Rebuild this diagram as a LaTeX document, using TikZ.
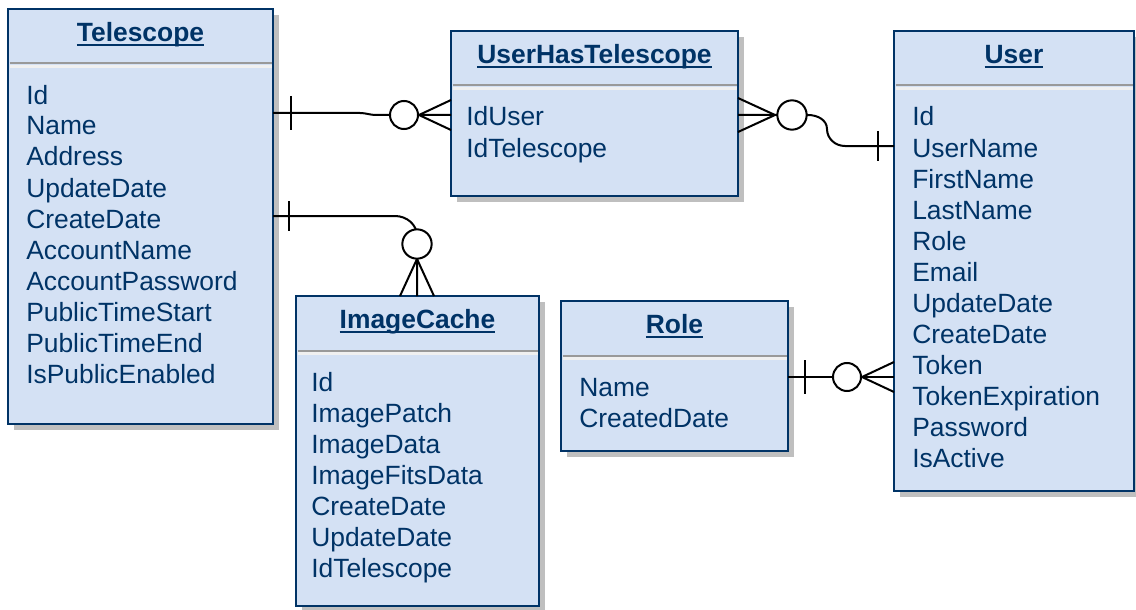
\documentclass[tikz,border=0pt]{standalone}
\usepackage{fontspec}
\setmainfont{Liberation Sans}
\usetikzlibrary{calc,fit,shadows}
\definecolor{entity fill}{RGB}{212,225,244}
\definecolor{entity navy}{RGB}{0,51,102}
\newcommand{\ultitle}[1]{\setbox0=\hbox{#1}\rlap{\vrule width\wd0 height -2pt depth 3.6pt}\box0}
\tikzset{entity box/.style={
    draw=entity navy, line width=1.7pt, fill=entity fill,
    inner sep=0pt, outer sep=0pt,
    drop shadow={shadow xshift=4.5pt, shadow yshift=-4.5pt, fill=black!25, opacity=1}
  },
  entity title/.style={
    anchor=base, inner sep=0pt, text=entity navy,
    font=\fontsize{19.8}{23}\selectfont\bfseries
  },
  field/.style={
    anchor=base west, inner sep=0pt, text=entity navy,
    font=\fontsize{19.8}{23}\selectfont
  },
  sep gray/.style={draw=black!40, line width=1.5pt},
  sep white/.style={draw=black!6, line width=2.4pt},
  rel/.style={draw=black, line width=1.5pt},
  zero/.style={rel, fill=white}
}

\begin{document}
\begin{tikzpicture}[x=0.75pt,y=-0.75pt]
  \useasboundingbox (0,0) rectangle (1136,610);

  % -- The entity boxes.
  \node[entity box, fit={(8,9) (273,424)}] (telescope) {};
  \node[entity box, fit={(451,31) (738,196)}] (uht) {};
  \node[entity box, fit={(894,31) (1134,491)}] (user) {};
  \node[entity box, fit={(296,296) (539,606)}] (imagecache) {};
  \node[entity box, fit={(561,301) (788,451)}] (role) {};

  \foreach \e in {telescope,uht,user,imagecache,role} {
    \draw[sep gray] ($(\e.north west)+(1.5,54.5)$) -- ($(\e.north east)+(-1.5,54.5)$);
    \draw[sep white] ($(\e.north west)+(1.5,57.5)$) -- ($(\e.north east)+(-1.5,57.5)$);
  }

  % -- Titles and fields.
  \node[entity title] (telescope-title) at ($(telescope.north)+(0,32.5)$) {\ultitle{Telescope}};
  \node[entity title] (uht-title) at ($(uht.north)+(0,32.5)$) {\ultitle{UserHasTelescope}};
  \node[entity title] (user-title) at ($(user.north)+(0,32.5)$) {\ultitle{User}};
  \node[entity title] (imagecache-title) at ($(imagecache.north)+(0,32.5)$) {\ultitle{ImageCache}};
  \node[entity title] (role-title) at ($(role.north)+(0,32.5)$) {\ultitle{Role}};

  \foreach \fieldname [count=\i from 0] in {Id,Name,Address,UpdateDate,CreateDate,AccountName,AccountPassword,PublicTimeStart,PublicTimeEnd,IsPublicEnabled}
    \node[field] (telescope-\i) at ($(telescope.north west)+(18,95+31*\i)$) {\fieldname};
  \foreach \fieldname [count=\i from 0] in {IdUser,IdTelescope}
    \node[field] (uht-\i) at ($(uht.north west)+(15,95+31*\i)$) {\fieldname};
  \foreach \fieldname [count=\i from 0] in {Id,UserName,FirstName,LastName,Role,Email,UpdateDate,CreateDate,Token,TokenExpiration,Password,IsActive}
    \node[field] (user-\i) at ($(user.north west)+(18,95+31*\i)$) {\fieldname};
  \foreach \fieldname [count=\i from 0] in {Id,ImagePatch,ImageData,ImageFitsData,CreateDate,UpdateDate,IdTelescope}
    \node[field] (imagecache-\i) at ($(imagecache.north west)+(15,95+31*\i)$) {\fieldname};
  \foreach \fieldname [count=\i from 0] in {Name,CreatedDate}
    \node[field] (role-\i) at ($(role.north west)+(18,95+31*\i)$) {\fieldname};

  % -- Telescope to UserHasTelescope.
  \coordinate (telescope-uht) at (telescope.east |- 0,113);
  \coordinate (uht-telescope) at (uht.west |- 0,115);
  \draw[rel] (telescope-uht) -- ++(87,0) to[out=0,in=180] ++(16,2) -- (uht-telescope);
  \draw[rel] ($(telescope-uht)+(18,-17)$) -- ++(0,34);
  \draw[rel] ($(uht-telescope)+(0,-15)$) -- ++(-32,15) -- ++(32,15);
  \draw[zero] ($(uht-telescope)+(-47,0)$) circle[radius=10.5pt];

  % -- Telescope to ImageCache.
  \coordinate (telescope-image) at (telescope.east |- 0,216);
  \coordinate (image-telescope) at (imagecache.north -| 417,0);
  \draw[rel] (telescope-image) -- ++(122,0) to[out=0,in=90] ++(22,20) -- (image-telescope);
  \draw[rel] ($(telescope-image)+(16,-15)$) -- ++(0,30);
  \draw[rel] ($(image-telescope)+(-17,0)$) -- ++(17,-37) -- ++(17,37);
  \draw[zero] ($(image-telescope)+(0,-52)$) circle[radius=11pt];

  % -- UserHasTelescope to User.
  \coordinate (uht-user) at (uht.east |- 0,115);
  \coordinate (user-uht) at (user.west |- 0,146);
  \draw[rel] (uht-user) -- ++(70,0) to[out=0,in=90] ++(19,14) to[out=-90,in=180] ++(18,17) -- (user-uht);
  \draw[rel] ($(uht-user)+(0,-17)$) -- ++(37,17) -- ++(-37,17);
  \draw[zero] ($(uht-user)+(54,0)$) circle[radius=11pt];
  \draw[rel] ($(user-uht)+(-16,-15)$) -- ++(0,30);

  % -- Role to User.
  \coordinate (role-user) at (role.east |- 0,377);
  \coordinate (user-role) at (user.west |- 0,377);
  \draw[rel] (role-user) -- (user-role);
  \draw[rel] ($(role-user)+(17,-17)$) -- ++(0,34);
  \draw[rel] ($(user-role)+(0,-15)$) -- ++(-32,15) -- ++(32,15);
  \draw[zero] ($(user-role)+(-47,0)$) circle[radius=10.5pt];
\end{tikzpicture}
\end{document}
